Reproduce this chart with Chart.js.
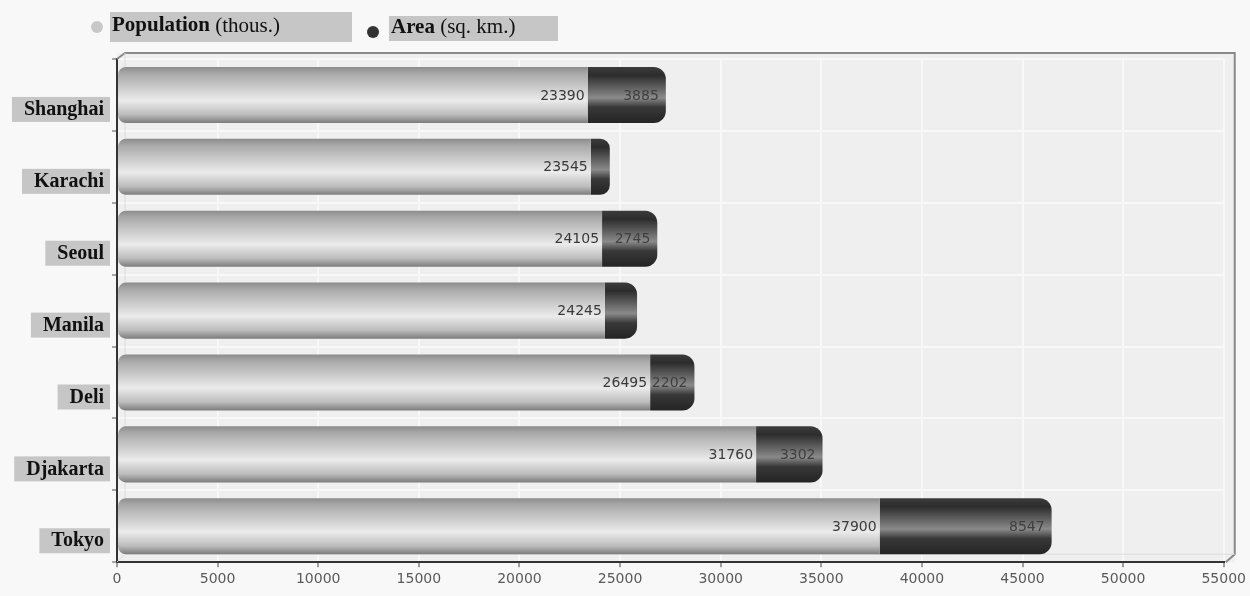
<!DOCTYPE html>
<html>
<head>
<meta charset="utf-8">
<script src="https://cdn.jsdelivr.net/npm/chart.js@4/dist/chart.umd.min.js"></script>
<style>
  html, body { margin: 0; padding: 0; background: #f8f8f8; }
  #wrap { width: 1250px; height: 596px; }
</style>
</head>
<body>
<div id="wrap"><canvas id="cityChart" width="1250" height="596"></canvas></div>
<script>
const cities = ['Shanghai', 'Karachi', 'Seoul', 'Manila', 'Deli', 'Djakarta', 'Tokyo'];
const population = [23390, 23545, 24105, 24245, 26495, 31760, 37900];
const area = [3885, 945, 2745, 1600, 2202, 3302, 8547];
const seriesNames = ['Population', 'Area'];
const seriesUnits = ['(thous.)', '(sq. km.)'];
const xTicks = [0, 5000, 10000, 15000, 20000, 25000, 30000, 35000, 40000, 45000, 50000, 55000];

const BAR_PCT = 0.78;

// vertical gradient so each bar looks like a cylinder
function cylinder(stops) {
    return function (c) {
        const chart = c.chart;
        const y = chart.scales.y;
        if (!y || !chart.chartArea) return stops[2][1];
        const mid = y.getPixelForValue(c.dataIndex);
        const h = (y.height / cities.length) * BAR_PCT;
        const g = chart.ctx.createLinearGradient(0, mid - h / 2, 0, mid + h / 2);
        stops.forEach(s => g.addColorStop(s[0], s[1]));
        return g;
    };
}

const backdrop = {
    id: 'backdrop',
    beforeDraw(chart) {
        const { ctx, chartArea: a } = chart;
        ctx.save();
        ctx.fillStyle = '#f8f8f8';
        ctx.fillRect(0, 0, chart.width, chart.height);
        ctx.fillStyle = '#efefef';
        ctx.fillRect(a.left, a.top - 6, a.right - a.left + 11, a.bottom - a.top + 6);
        ctx.restore();
    },
    beforeDatasetsDraw(chart) {
        const { ctx, chartArea: a } = chart;
        ctx.save();
        // back wall of the 3D box
        ctx.strokeStyle = '#8a8a8a';
        ctx.lineWidth = 2;
        ctx.beginPath();
        ctx.moveTo(a.left, a.top);
        ctx.lineTo(a.left + 8, a.top - 6);
        ctx.lineTo(a.right + 11, a.top - 6);
        ctx.lineTo(a.right + 11, a.bottom - 8);
        ctx.lineTo(a.right + 2, a.bottom);
        ctx.stroke();
        ctx.strokeStyle = '#dcdcdc';
        ctx.lineWidth = 1;
        ctx.beginPath();
        ctx.moveTo(a.left + 8, a.top - 6);
        ctx.lineTo(a.left + 8, a.bottom - 8);
        ctx.lineTo(a.right + 11, a.bottom - 8);
        ctx.moveTo(a.left, a.bottom);
        ctx.lineTo(a.left + 8, a.bottom - 8);
        ctx.stroke();
        ctx.restore();
    }
};

const valueLabels = {
    id: 'valueLabels',
    afterDatasetsDraw(chart) {
        const ctx = chart.ctx;
        ctx.save();
        ctx.font = '14px "DejaVu Sans"';
        ctx.textAlign = 'right';
        ctx.textBaseline = 'middle';
        chart.data.datasets.forEach((ds, di) => {
            chart.getDatasetMeta(di).data.forEach((el, i) => {
                const w = Math.abs(el.x - el.base);
                if (di === 1 && w < 40) return;
                ctx.fillStyle = di === 0 ? '#3a3a3a' : '#404040';
                ctx.fillText(String(ds.data[i]), el.x - (di === 0 ? 3 : 7), el.y + 1);
            });
        });
        ctx.restore();
    }
};

const cityLabels = {
    id: 'cityLabels',
    afterDraw(chart) {
        const ctx = chart.ctx;
        const y = chart.scales.y;
        const right = 110;
        ctx.save();
        ctx.font = 'bold 20px "Liberation Serif"';
        ctx.textAlign = 'right';
        ctx.textBaseline = 'middle';
        cities.forEach((name, i) => {
            const cy = y.getPixelForValue(i) + 14;
            const w = ctx.measureText(name).width;
            ctx.fillStyle = '#c6c6c6';
            ctx.fillRect(right - w - 18, cy - 12, w + 18, 25);
            ctx.fillStyle = '#111';
            ctx.fillText(name, right - 6, cy + 1);
        });
        ctx.restore();
    }
};

const legendBoxes = {
    id: 'legendBoxes',
    afterDraw(chart) {
        const ctx = chart.ctx;
        const items = [
            { dot: '#c8c8c8', dx: 97, dy: 27, box: [110, 12, 242, 30] },
            { dot: '#333333', dx: 373, dy: 32, box: [389, 16, 169, 25] }
        ];
        ctx.save();
        ctx.textBaseline = 'middle';
        items.forEach((it, i) => {
            ctx.fillStyle = it.dot;
            ctx.beginPath();
            ctx.arc(it.dx, it.dy, 6, 0, Math.PI * 2);
            ctx.fill();
            const [bx, by, bw, bh] = it.box;
            ctx.fillStyle = '#c6c6c6';
            ctx.fillRect(bx, by, bw, bh);
            ctx.fillStyle = '#111';
            ctx.font = 'bold 21px "Liberation Serif"';
            ctx.fillText(seriesNames[i], bx + 2, by + bh / 2 - 1);
            const w = ctx.measureText(seriesNames[i]).width;
            ctx.font = '21px "Liberation Serif"';
            ctx.fillText(' ' + seriesUnits[i], bx + 2 + w, by + bh / 2 - 1);
        });
        ctx.restore();
    }
};

new Chart(document.getElementById('cityChart').getContext('2d'),
{
    type: 'bar',
    data:
    {
        labels: cities,
        datasets: [{
            label: seriesNames[0],
            data: population,
            backgroundColor: cylinder([[0, '#8c8c8c'], [0.12, '#a9a9a9'], [0.6, '#ebebeb'], [0.85, '#bcbcbc'], [1, '#7c7c7c']]),
            borderRadius: { topLeft: 8, bottomLeft: 8, topRight: 0, bottomRight: 0 },
            borderSkipped: false,
            barPercentage: BAR_PCT,
            categoryPercentage: 1
        },
        {
            label: seriesNames[1],
            data: area,
            backgroundColor: cylinder([[0, '#3c3c3c'], [0.15, '#2c2c2c'], [0.55, '#8a8a8a'], [0.72, '#383838'], [1, '#242424']]),
            borderRadius: { topLeft: 0, bottomLeft: 0, topRight: 12, bottomRight: 12 },
            borderSkipped: false,
            barPercentage: BAR_PCT,
            categoryPercentage: 1
        }]
    },
    options:
    {
        responsive: false,
        animation: false,
        indexAxis: 'y',
        layout: { padding: { left: 112, top: 59, right: 23, bottom: 4 } },
        plugins: {
            legend: { display: false },
            tooltip: { enabled: false }
        },
        scales: {
            x: {
                stacked: true,
                min: 0,
                max: 55000,
                afterBuildTicks: s => { s.ticks = xTicks.map(v => ({ value: v })); },
                ticks: {
                    color: '#5a5a5a',
                    font: { family: 'DejaVu Sans', size: 14 },
                    padding: 4,
                    maxRotation: 0,
                    callback: v => String(v)
                },
                grid: { color: '#f8f8f8', lineWidth: 2, tickLength: 5, tickColor: '#444', tickWidth: 1 },
                border: { color: '#333', width: 2 }
            },
            y: {
                stacked: true,
                ticks: { display: false },
                grid: { color: '#f8f8f8', lineWidth: 2, tickLength: 5, tickColor: '#555', tickWidth: 1 },
                border: { color: '#333', width: 2 }
            }
        }
    },
    plugins: [backdrop, valueLabels, cityLabels, legendBoxes]
});
</script>
</body>
</html>
